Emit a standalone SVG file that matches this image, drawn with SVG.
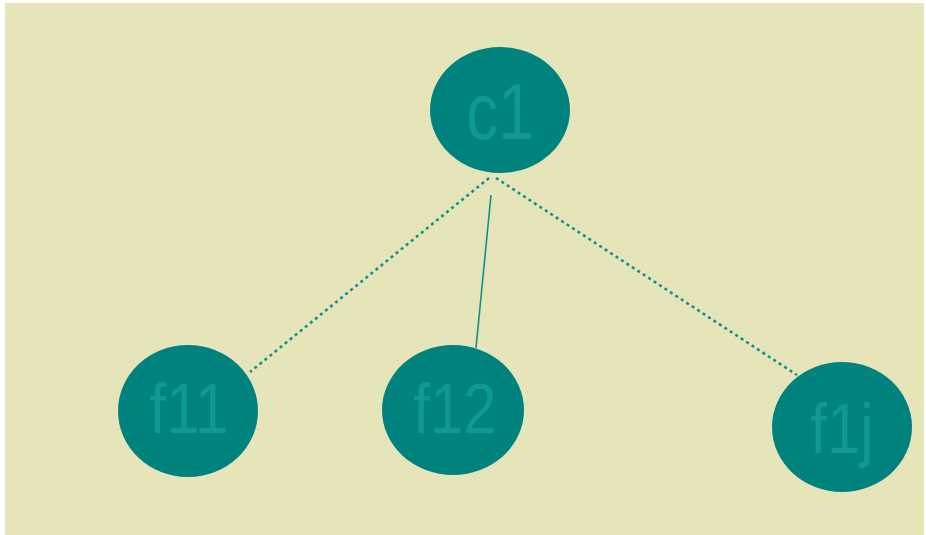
<svg xmlns="http://www.w3.org/2000/svg" width="926" height="535" viewBox="0 0 926 535">
<style>
.bg{fill:#e6e4b9}
.node ellipse{fill:#00827f}
.node text{font-family:"Liberation Sans",Arial,sans-serif;fill:#11998f;text-anchor:middle}
.edge{stroke:#10928b;fill:none}
.dot{stroke-width:2.6;stroke-dasharray:3 3.5}
.solid{stroke-width:1.6}
</style>
<rect width="926" height="535" fill="#ffffff"/>
<rect class="bg" x="5" y="3" width="919" height="532"/>
<g id="connectors">
<line class="edge dot" x1="489" y1="178" x2="250" y2="372"/>
<line class="edge solid" x1="491" y1="195" x2="476" y2="348"/>
<line class="edge dot" x1="496" y1="178" x2="797" y2="375"/>
</g>
<g id="c1" class="node">
<ellipse cx="500" cy="110" rx="70" ry="63"/>
<text transform="translate(500 139) scale(1 1.24)" x="0" y="0" font-size="64">c1</text>
</g>
<g id="f11" class="node">
<ellipse cx="188" cy="411" rx="70" ry="66"/>
<text transform="translate(189 433) scale(1 1.17)" x="0" y="0" font-size="60">f11</text>
</g>
<g id="f12" class="node">
<ellipse cx="453" cy="410" rx="71" ry="65"/>
<text transform="translate(455 433) scale(1 1.17)" x="0" y="0" font-size="60">f12</text>
</g>
<g id="f1j" class="node">
<ellipse cx="842" cy="427" rx="70" ry="65"/>
<text transform="translate(842 453) scale(1 1.17)" x="0" y="0" font-size="60">f1j</text>
</g>
</svg>
